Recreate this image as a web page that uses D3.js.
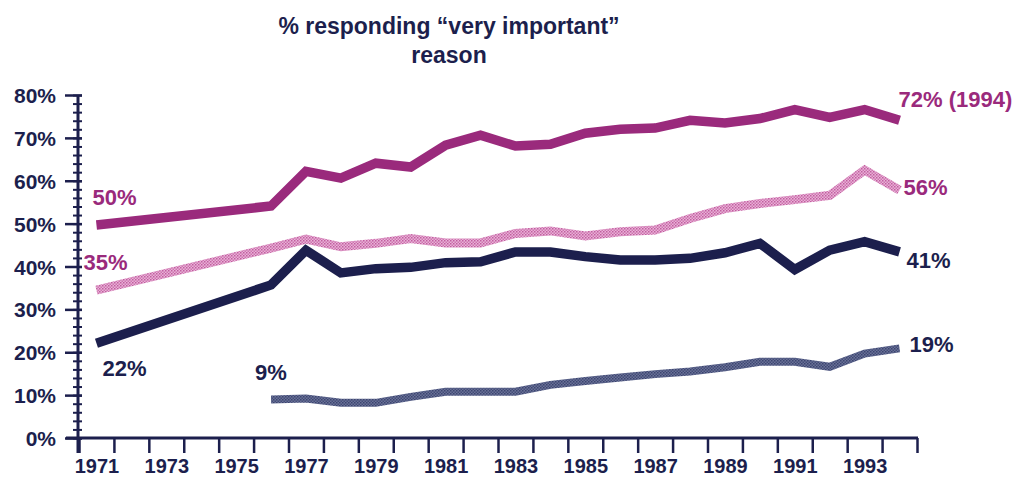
<!DOCTYPE html>
<html>
<head>
<meta charset="utf-8">
<script src="https://cdn.jsdelivr.net/npm/d3@7/dist/d3.min.js"></script>
<style>
  html, body { margin: 0; padding: 0; background: #ffffff; }
  svg { display: block; font-family: "Liberation Sans", Arial, sans-serif; font-weight: bold; }
</style>
</head>
<body>
<svg id="chart" width="1017" height="479"></svg>
<script>
// ---------- data ----------
const years = d3.range(1971, 1995);              // 1971 .. 1994
const yearLabels = [1971, 1973, 1975, 1977, 1979, 1981, 1983, 1985, 1987, 1989, 1991, 1993];
const yTickValues = [0, 10, 20, 30, 40, 50, 60, 70, 80];

// Top magenta series (50% -> 72%)
const seriesAYears = [1971, 1976, 1977, 1978, 1979, 1980, 1981, 1982, 1983, 1984, 1985, 1986, 1987, 1988, 1989, 1990, 1991, 1992, 1993, 1994];
const seriesA = [49.7, 54.1, 62.2, 60.6, 64.1, 63.2, 68.3, 70.6, 68.1, 68.5, 71.1, 72.0, 72.3, 74.1, 73.5, 74.5, 76.6, 74.8, 76.6, 74.1];

// Light pink series (35% -> 56%)
const seriesB = [34.5, 44.3, 46.4, 44.6, 45.4, 46.5, 45.5, 45.5, 47.7, 48.3, 47.1, 48.1, 48.5, 51.2, 53.5, 54.7, 55.6, 56.6, 62.5, 57.8];

// Navy series (22% -> 41%)
const seriesC = [22.1, 35.7, 43.8, 38.5, 39.5, 39.8, 40.9, 41.1, 43.4, 43.4, 42.3, 41.5, 41.5, 41.9, 43.2, 45.4, 39.3, 43.8, 45.8, 43.4];

// Grey-blue series (9% -> 19%), starts 1976
const seriesDYears = [1976, 1977, 1978, 1979, 1980, 1981, 1982, 1983, 1984, 1985, 1986, 1987, 1988, 1989, 1990, 1991, 1992, 1993, 1994];
const seriesD = [9.0, 9.2, 8.2, 8.2, 9.6, 10.8, 10.8, 10.8, 12.4, 13.3, 14.1, 14.9, 15.5, 16.5, 17.8, 17.8, 16.6, 19.7, 20.9];

const titleLines = ["% responding \u201cvery important\u201d", "reason"];
const labelA = ["50%", "72% (1994)"];
const labelB = ["35%", "56%"];
const labelC = ["22%", "41%"];
const labelD = ["9%", "19%"];

// ---------- drawing ----------
const NAVY = "#1c1f4d", MAGENTA = "#9a2a7c", GREY = "#4d5683";
const svg = d3.select("#chart");

const defs = svg.append("defs");
const pPink = defs.append("pattern").attr("id", "pinkTex").attr("patternUnits", "userSpaceOnUse")
  .attr("width", 3).attr("height", 3);
pPink.append("rect").attr("width", 3).attr("height", 3).attr("fill", "#e8b2d8");
pPink.append("rect").attr("x", 0).attr("y", 0).attr("width", 1.5).attr("height", 1.5).attr("fill", "#c25d9f");
pPink.append("rect").attr("x", 1.5).attr("y", 1.5).attr("width", 1.5).attr("height", 1.5).attr("fill", "#cf74ae");
const pGrey = defs.append("pattern").attr("id", "greyTex").attr("patternUnits", "userSpaceOnUse")
  .attr("width", 3).attr("height", 3);
pGrey.append("rect").attr("width", 3).attr("height", 3).attr("fill", "#6a7297");
pGrey.append("rect").attr("x", 0).attr("y", 0).attr("width", 1.5).attr("height", 1.5).attr("fill", "#3b4470");
pGrey.append("rect").attr("x", 1.5).attr("y", 1.5).attr("width", 1.5).attr("height", 1.5).attr("fill", "#434c78");

// scales: each year occupies one band between ticks
const x = d3.scaleLinear().domain([1971, 1995]).range([79, 917]);
const y = d3.scaleLinear().domain([0, 80]).range([438, 95]);
const xc = yr => x(yr + 0.5);

// title
svg.append("g").selectAll("text").data(titleLines).join("text")
  .attr("x", 449).attr("y", (d, i) => 34 + i * 29)
  .attr("text-anchor", "middle").attr("font-size", 23).attr("fill", NAVY)
  .text(d => d);

// x axis: tick marks at band boundaries
const xTicks = svg.append("g").attr("transform", `translate(0,${y(0)})`)
  .call(d3.axisBottom(x).tickValues(d3.range(1971, 1996)).tickFormat("").tickSize(15).tickSizeOuter(0));
xTicks.select(".domain").remove();
xTicks.selectAll(".tick line").attr("stroke", NAVY).attr("stroke-width", 2.5);
svg.append("line").attr("x1", 66).attr("x2", 918).attr("y1", y(0)).attr("y2", y(0))
  .attr("stroke", NAVY).attr("stroke-width", 3);

// x labels at band centres
const xLab = svg.append("g").attr("transform", `translate(0,${y(0)})`)
  .call(d3.axisBottom(x).tickValues(yearLabels.map(v => v + 0.5)).tickFormat(v => String(Math.floor(v))).tickSize(0));
xLab.select(".domain").remove();
xLab.selectAll("text").attr("font-size", 20).attr("font-family", "Liberation Sans, Arial, sans-serif")
  .attr("font-weight", "bold").attr("fill", NAVY).attr("y", 35).attr("dy", 0);

// y axis: minor ticks every 2%
const yMinor = svg.append("g").attr("transform", `translate(${x(1971) - 1},0)`)
  .call(d3.axisLeft(y).tickValues(d3.range(0, 81, 2)).tickFormat("").tickSize(5).tickSizeOuter(0));
yMinor.select(".domain").remove();
yMinor.selectAll(".tick line").attr("x1", 4).attr("stroke", NAVY).attr("stroke-width", 2);

// y axis: major ticks + labels
const yMajor = svg.append("g").attr("transform", `translate(${x(1971) - 1},0)`)
  .call(d3.axisLeft(y).tickValues(yTickValues).tickFormat(d => d + "%").tickSize(13).tickSizeOuter(0));
yMajor.select(".domain").remove();
yMajor.selectAll(".tick line").attr("x1", 4).attr("stroke", NAVY).attr("stroke-width", 2.5);
yMajor.selectAll(".tick text").attr("font-size", 21).attr("font-family", "Liberation Sans, Arial, sans-serif")
  .attr("font-weight", "bold").attr("fill", NAVY).attr("x", -22).attr("dy", "0.36em");
svg.append("line").attr("x1", x(1971) - 1).attr("x2", x(1971) - 1).attr("y1", y(80)).attr("y2", y(0) + 15)
  .attr("stroke", NAVY).attr("stroke-width", 3);

// lines
const line = d3.line().x(d => xc(d[0])).y(d => y(d[1]));
function drawSeries(yrs, vals, stroke, width) {
  svg.append("path").datum(yrs.map((yr, i) => [yr, vals[i]]))
    .attr("d", line).attr("fill", "none").attr("stroke", stroke)
    .attr("stroke-width", width).attr("stroke-linejoin", "miter").attr("stroke-linecap", "butt");
}
drawSeries(seriesDYears, seriesD, "url(#greyTex)", 8);
drawSeries(seriesAYears, seriesB, "url(#pinkTex)", 9);
drawSeries(seriesAYears, seriesC, NAVY, 9.5);
drawSeries(seriesAYears, seriesA, MAGENTA, 9.5);

// end labels
function label(txt, px, py, color) {
  svg.append("text").attr("x", px).attr("y", py).attr("font-size", 22).attr("fill", color).text(txt);
}
const first = seriesAYears[0], last = seriesAYears[seriesAYears.length - 1];
const nA = seriesA.length - 1;
label(labelA[0], xc(first) - 4, y(seriesA[0]) - 20, MAGENTA);
label(labelA[1], xc(last) - 1, y(seriesA[nA]) - 13, MAGENTA);
label(labelB[0], xc(first) - 13, y(seriesB[0]) - 20, MAGENTA);
label(labelB[1], xc(last) + 4, y(seriesB[nA]) + 5, MAGENTA);
label(labelC[0], xc(first) + 6, y(seriesC[0]) + 33, NAVY);
label(labelC[1], xc(last) + 7, y(seriesC[nA]) + 16, NAVY);
label(labelD[0], xc(seriesDYears[0]) - 16, y(seriesD[0]) - 19, NAVY);
label(labelD[1], xc(last) + 10, y(seriesD[seriesD.length - 1]) + 4, NAVY);
</script>
</body>
</html>
